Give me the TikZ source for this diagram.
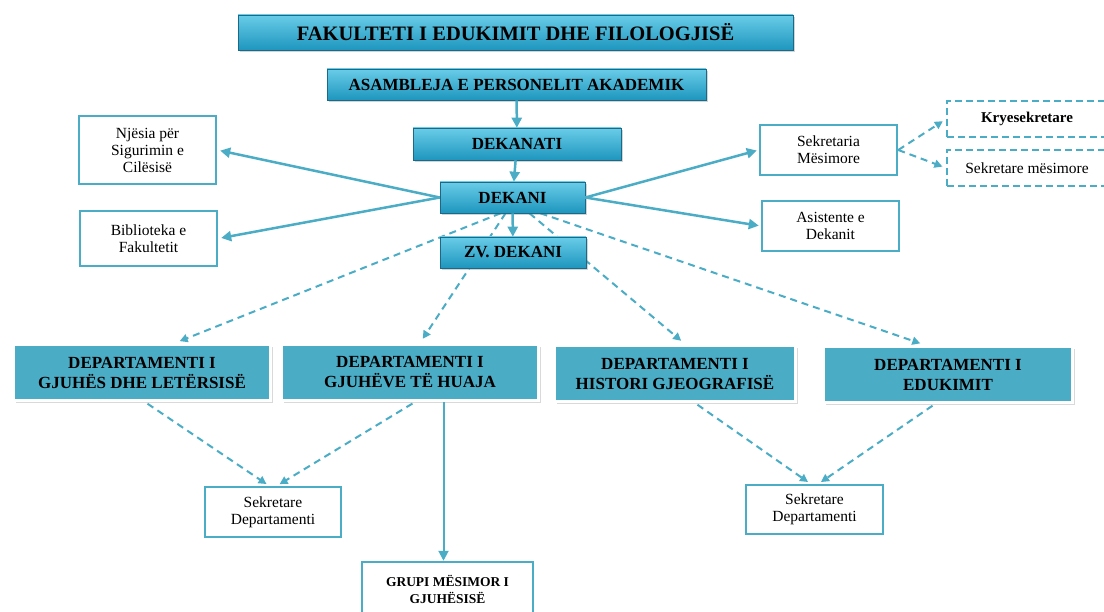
\documentclass[tikz,border=0pt]{standalone}
\usepackage{fontspec}
\setmainfont{Liberation Serif}
\usetikzlibrary{arrows.meta,shadows,backgrounds}
\definecolor{aqua}{RGB}{75,172,198}
\definecolor{headtop}{RGB}{105,204,232}
\definecolor{headbot}{RGB}{30,150,190}
\definecolor{headedge}{RGB}{25,105,135}
\tikzset{
	headbox/.style={draw=headedge, line width=0.6pt, top color=headtop, bottom color=headbot, drop shadow={shadow xshift=2pt, shadow yshift=-2.5pt, opacity=0.35}, inner sep=0pt, font=\fontsize{17}{19}\selectfont\bfseries},
	deptbox/.style={draw=white, line width=3pt, fill=aqua, drop shadow={shadow xshift=2pt, shadow yshift=-3pt, opacity=0.3}, inner sep=0pt, align=center, minimum width=257pt, minimum height=56pt, font=\fontsize{17}{20}\selectfont\bfseries},
	infobox/.style={draw=aqua, line width=2.5pt, fill=white, inner sep=0pt, align=center, minimum width=137pt, font=\fontsize{15.5}{17}\selectfont},
	dashbox/.style={draw=aqua, line width=1.6pt, dash pattern=on 7pt off 4pt, inner sep=0pt, minimum width=160pt, minimum height=36pt, font=\fontsize{15.5}{17}\selectfont},
	link/.style={draw=aqua, line width=2.5pt, -{Triangle[length=10pt,width=10pt]}},
	dlink/.style={draw=aqua, line width=2pt, dash pattern=on 7pt off 5pt, -{Triangle[length=8pt,width=8pt]}}
}
\begin{document}
\begin{tikzpicture}[x=1pt,y=-1pt]
	\useasboundingbox (0,0) rectangle (1104,612);
	\node [headbox, minimum width=555pt, minimum height=35pt, font=\fontsize{20.5}{22}\selectfont\bfseries] (fak) at (515.5,32.5) {FAKULTETI I EDUKIMIT DHE FILOLOGJISË};
	\node [headbox, minimum width=379pt, minimum height=31pt] (asamb) at (516.5,84.5) {ASAMBLEJA E PERSONELIT AKADEMIK};
	\node [headbox, minimum width=208pt, minimum height=32pt] (dekanati) at (517,144) {DEKANATI};
	\node [headbox, minimum width=145pt, minimum height=31pt] (dekani) at (512.5,197.5) {DEKANI};
	\node [headbox, minimum width=146pt, minimum height=31pt] (zv) at (513,252.5) {ZV. DEKANI};
	\node [infobox, minimum height=68pt] (njesia) at (147.5,150) {Njësia për\\Sigurimin e\\Cilësisë};
	\node [infobox, minimum height=55pt] (bibl) at (148.5,238.5) {Biblioteka e\\Fakultetit};
	\node [infobox, minimum height=50pt] (sekm) at (828.5,150) {Sekretaria\\Mësimore};
	\node [infobox, minimum height=50pt] (asist) at (830.5,226) {Asistente e\\Dekanit};
	\node [dashbox, font=\fontsize{15}{17}\selectfont\bfseries] (krye) at (1027,119) {Kryesekretare};
	\node [dashbox] (sekmes) at (1027,168) {Sekretare mësimore};
	\node [deptbox] (dept1) at (142,372.5) {DEPARTAMENTI I\\GJUHËS DHE LETËRSISË};
	\node [deptbox] (dept2) at (410,372.5) {DEPARTAMENTI I\\GJUHËVE TË HUAJA};
	\node [deptbox, minimum width=241pt] (dept3) at (675,373.5) {DEPARTAMENTI I\\HISTORI GJEOGRAFISË};
	\node [deptbox, minimum width=249pt] (dept4) at (948,374.5) {DEPARTAMENTI I\\EDUKIMIT};
	\node [infobox, minimum width=136pt, minimum height=50pt] (sdep1) at (273,512) {Sekretare\\Departamenti};
	\node [infobox, minimum height=49pt] (sdep2) at (814.5,509.5) {Sekretare\\Departamenti};
	\node [infobox, minimum width=171pt, minimum height=54pt, text depth=0pt, font=\fontsize{13.5}{17}\selectfont\bfseries] (grupi) at (447.5,589) {GRUPI MËSIMOR I\\GJUHËSISË};
	\coordinate (gtop) at ([xshift=-4pt]grupi.north);
	\draw [link] (asamb) -- (dekanati);
	\draw [link] (dekanati) -- (dekani);
	\draw [link] (dekani) -- (zv);
	\draw [link, shorten >=3pt] (dekani.west) -- (njesia.east);
	\draw [link, shorten >=3pt] (dekani.west) -- (bibl.east);
	\draw [link, shorten >=2pt] (dekani.east) -- (sekm.west);
	\draw [link, shorten >=2pt] (dekani.east) -- (asist.west);
	\draw [dlink, shorten >=4pt] (sekm.east) -- (krye.west);
	\draw [dlink, shorten >=4pt] (sekm.east) -- (sekmes.west);
	\begin{scope}[on background layer]
		\draw [dlink, shorten >=5pt] ([xshift=-12pt]dekani.south) -- ([xshift=33pt]dept1.north);
		\draw [dlink, shorten >=5pt] ([xshift=-7pt]dekani.south) -- ([xshift=10pt]dept2.north);
		\draw [dlink, shorten >=5pt] ([xshift=17pt]dekani.south) -- ([xshift=10pt]dept3.north);
		\draw [dlink, shorten >=5pt] ([xshift=28pt]dekani.south) -- ([xshift=-23pt]dept4.north);
	\end{scope}
	\draw [dlink, shorten <=3pt, shorten >=3pt] ([xshift=3pt]dept1.south) -- ([xshift=-4pt]sdep1.north);
	\draw [dlink, shorten <=3pt, shorten >=3pt] ([xshift=5pt]dept2.south) -- ([xshift=4pt]sdep1.north);
	\draw [dlink, shorten <=3pt, shorten >=3pt] ([xshift=20pt]dept3.south) -- ([xshift=-4pt]sdep2.north);
	\draw [dlink, shorten <=3pt, shorten >=3pt] ([xshift=-13pt]dept4.south) -- ([xshift=4pt]sdep2.north);
	\draw [link, line width=2pt] (dept2.south -| gtop) -- (gtop);
\end{tikzpicture}
\end{document}
